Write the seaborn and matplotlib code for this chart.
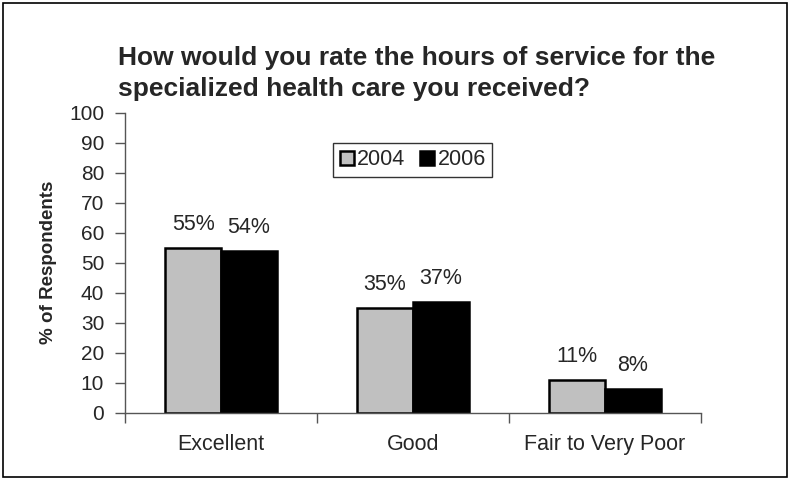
import matplotlib
matplotlib.use("Agg")
import matplotlib.pyplot as plt
import pandas as pd
import seaborn as sns
from matplotlib.patches import Rectangle

# chart data
categories = ["Excellent", "Good", "Fair to Very Poor"]
years = ["2004", "2006"]
values_2004 = [55, 35, 11]
values_2006 = [54, 37, 8]
y_ticks = list(range(0, 101, 10))

df = pd.DataFrame({
    "rating": categories * 2,
    "year": [years[0]] * 3 + [years[1]] * 3,
    "pct": values_2004 + values_2006,
})

sns.set_theme(style="white")
plt.rcParams["font.family"] = ["Liberation Sans", "DejaVu Sans"]

fig = plt.figure(figsize=(7.91, 4.8), dpi=100)
ax = fig.add_axes([0.158, 0.140, 0.728, 0.625])

sns.barplot(data=df, x="rating", y="pct", hue="year", order=categories,
            hue_order=years, palette=["#C0C0C0", "#000000"], width=0.58,
            gap=0, edgecolor="black", linewidth=1.8, saturation=1,
            errorbar=None, ax=ax)

for cont in ax.containers:
    ax.bar_label(cont, labels=[f"{v:.0f}%" for v in cont.datavalues],
                 padding=9, fontsize=15.5)

ax.set_ylim(0, 100)
ax.set_yticks(y_ticks)
ax.set_yticklabels([str(t) for t in y_ticks], fontsize=15)
ax.set_xlim(-0.5, len(categories) - 0.5)
ax.set_xticks([i - 0.5 for i in range(len(categories) + 1)])
ax.set_xticklabels([])
ax.set_xticks(range(len(categories)), minor=True)
ax.set_xticklabels(categories, minor=True, fontsize=15.5)
ax.tick_params(axis="x", which="major", direction="out", length=7, width=1,
               color="#555555", bottom=True)
ax.tick_params(axis="x", which="minor", length=0, pad=15)
ax.tick_params(axis="y", direction="out", length=7, width=1,
               color="#555555", left=True, pad=8)
ax.set_xlabel("")
ax.set_ylabel("% of Respondents", fontsize=13.5, fontweight="bold", labelpad=9)
sns.despine(ax=ax)
for side in ["left", "bottom"]:
    ax.spines[side].set_color("#555555")
    ax.spines[side].set_linewidth(1)

leg = ax.legend(loc="upper center", bbox_to_anchor=(0.5, 0.9), ncol=2,
                fontsize=15.5, frameon=True, fancybox=False, handlelength=0.65,
                handleheight=0.65, handletextpad=0.15, columnspacing=0.7,
                borderpad=0.3, borderaxespad=0)
leg.get_frame().set_edgecolor("black")
leg.get_frame().set_linewidth(1)

fig.text(0.149, 0.847, "How would you rate the hours of service for the\n"
         "specialized health care you received?",
         fontsize=19, fontweight="bold", ha="left", va="center",
         linespacing=1.38)

fig.patches.append(Rectangle((0.004, 0.006), 0.991, 0.988,
                             transform=fig.transFigure, fill=False,
                             edgecolor="black", linewidth=1.2))

fig.savefig("out.png", dpi=100)
